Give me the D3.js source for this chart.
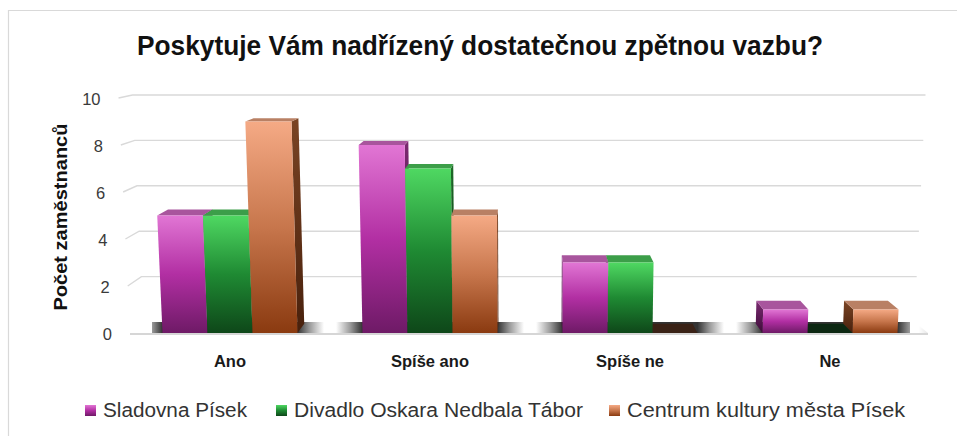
<!DOCTYPE html>
<html><head><meta charset="utf-8">
<script src="https://cdn.jsdelivr.net/npm/d3@7"></script>
<style>html,body{margin:0;padding:0;background:#fff}svg{display:block}</style>
</head><body>
<svg id="chart" width="957" height="436"></svg>
<script>
const categories = ["Ano", "Spíše ano", "Spíše ne", "Ne"];
const seriesNames = ["Sladovna Písek", "Divadlo Oskara Nedbala Tábor", "Centrum kultury města Písek"];
const sladovna = [5, 8, 3, 1];
const divadlo = [5, 7, 3, 0];
const centrum = [9, 5, 0, 1];
const yTicks = [0, 2, 4, 6, 8, 10];
const titleText = "Poskytuje Vám nadřízený dostatečnou zpětnou vazbu?";
const yTitle = "Počet zaměstnanců";

const seriesValues = [sladovna, divadlo, centrum];
const palette = [
  {front: ["#e176d4", "#b22fa3", "#6e1a66"], top: "#a8559d", side: ["#7a2a70", "#3e0c3a"], zero: "#3a0c36"},
  {front: ["#4fd862", "#1f8a33", "#0e4719"], top: "#3c9e49", side: ["#1e6a28", "#0a2e10"], zero: "#0c2812"},
  {front: ["#f5aa85", "#c7764c", "#8a3a10"], top: "#b98064", side: ["#7a4424", "#48200c"], zero: "#3a2216"}
];

const svg = d3.select("#chart");
const defs = svg.append("defs");

// frame
svg.append("path").attr("d", "M8.5,436 V10.5 H957").attr("fill", "none").attr("stroke", "#d9d9d9").attr("stroke-width", 1.2);

const x = d3.scaleBand().domain(categories).range([130, 930]).paddingInner(0.325).paddingOuter(0.1625);
const xs = d3.scaleBand().domain(seriesNames).range([0, x.bandwidth()]);
const y = d3.scaleLinear().domain([0, 10]).range([333, 98]);

const CX = 530, VY = 10, A = 0.000122, T = 0.034;
const floorL = 130, floorR = 928;
function proj(X, v, z) {
  const fy = y(v);
  const fx = CX + (X - CX) * (1 + A * (y(0) - fy));
  const t = z * T;
  return [fx + (CX - fx) * t, fy + (VY - fy) * t];
}
const poly = pts => "M" + pts.map(p => p[0].toFixed(2) + "," + p[1].toFixed(2)).join("L") + "Z";

// gradients
palette.forEach((p, i) => {
  const g = defs.append("linearGradient").attr("id", "gf" + i).attr("x1", 0).attr("y1", 0).attr("x2", 0).attr("y2", 1);
  g.append("stop").attr("offset", 0).attr("stop-color", p.front[0]);
  g.append("stop").attr("offset", 0.5).attr("stop-color", p.front[1]);
  g.append("stop").attr("offset", 1).attr("stop-color", p.front[2]);
  const s = defs.append("linearGradient").attr("id", "gs" + i).attr("x1", 0).attr("y1", 0).attr("x2", 0).attr("y2", 1);
  s.append("stop").attr("offset", 0).attr("stop-color", p.side[0]);
  s.append("stop").attr("offset", 1).attr("stop-color", p.side[1]);
});

// floor gradient from group edges
const fg = defs.append("linearGradient").attr("id", "floorg").attr("gradientUnits", "userSpaceOnUse")
  .attr("x1", floorL).attr("y1", 0).attr("x2", floorR).attr("y2", 0);
const stops = [];
const pushStop = (px, col) => stops.push([(px - floorL) / (floorR - floorL), col]);
pushStop(floorL, "#ffffff");
const gapsL = [floorL].concat(categories.map(c => x(c) + x.bandwidth()));
const gapsR = categories.map(c => x(c)).concat([floorR]);
for (let i = 0; i < gapsL.length; i++) {
  const a = gapsL[i], b = gapsR[i], m = (a + b) / 2;
  if (i > 0) { pushStop(a, "#333333"); pushStop(a + 12, "#999999"); }
  pushStop(m - 6, "#ffffff"); pushStop(m + 6, "#ffffff");
  if (i < gapsL.length - 1) { pushStop(b - 12, "#999999"); pushStop(b, "#333333"); }
}
pushStop(floorR, "#e6e6e6");
stops.forEach(s => fg.append("stop").attr("offset", Math.max(0, Math.min(1, s[0]))).attr("stop-color", s[1]));

// gridlines (side wall + back wall)
const grid = svg.append("g");
yTicks.filter(v => v > 0).forEach(v => {
  const p0 = proj(floorL, v, 0), p1 = proj(floorL, v, 1), p2 = proj(floorR, v, 1);
  grid.append("path").attr("d", `M${p0}L${p1}L${p2}`).attr("fill", "none").attr("stroke", "#d9d9d9").attr("stroke-width", 1.4);
});

// floor
svg.append("path").attr("d", poly([proj(floorL, 0, 0), proj(floorR, 0, 0), proj(floorR, 0, 1), proj(floorL, 0, 1)]))
  .attr("fill", "url(#floorg)");
svg.append("path").attr("d", poly([proj(floorL, 0, 0), proj(floorR, 0, 0), [proj(floorR, 0, 0)[0], y(0) + 2], [proj(floorL, 0, 0)[0], y(0) + 2]]))
  .attr("fill", "#d6d6d6");

// y tick labels
svg.append("g").selectAll("text").data(yTicks).join("text")
  .attr("x", v => proj(floorL, v, 0)[0] - 18)
  .attr("y", v => y(v) + 7)
  .attr("text-anchor", "end")
  .attr("font-family", "Liberation Sans, Arial, sans-serif").attr("font-size", 16.5).attr("fill", "#3a3a3a")
  .text(v => v);

// bars
const Z1 = 0.85;
const bars = [];
categories.forEach((c, ci) => {
  seriesNames.forEach((s, si) => {
    const X0 = x(c) + xs(s), X1 = X0 + xs.bandwidth();
    bars.push({ci, si, X0, X1, v: seriesValues[si][ci]});
  });
});
bars.sort((a, b) => Math.abs((b.X0 + b.X1) / 2 - CX) - Math.abs((a.X0 + a.X1) / 2 - CX));
const barG = svg.append("g");
bars.forEach(b => {
  const p = palette[b.si];
  const g = barG.append("g");
  if (b.v === 0) {
    g.append("path").attr("d", poly([proj(b.X0, 0, 0), proj(b.X1, 0, 0), proj(b.X1, 0, Z1), proj(b.X0, 0, Z1)])).attr("fill", p.zero);
    return;
  }
  if (b.X1 < CX) {
    g.append("path").attr("d", poly([proj(b.X1, 0, 0), proj(b.X1, 0, Z1), proj(b.X1, b.v, Z1), proj(b.X1, b.v, 0)])).attr("fill", `url(#gs${b.si})`);
  } else if (b.X0 > CX) {
    g.append("path").attr("d", poly([proj(b.X0, 0, 0), proj(b.X0, 0, Z1), proj(b.X0, b.v, Z1), proj(b.X0, b.v, 0)])).attr("fill", `url(#gs${b.si})`);
  }
  g.append("path").attr("d", poly([proj(b.X0, b.v, 0), proj(b.X1, b.v, 0), proj(b.X1, b.v, Z1), proj(b.X0, b.v, Z1)])).attr("fill", p.top);
  g.append("path").attr("d", poly([proj(b.X0, 0, 0), proj(b.X1, 0, 0), proj(b.X1, b.v, 0), proj(b.X0, b.v, 0)])).attr("fill", `url(#gf${b.si})`);
});

// category labels
svg.append("g").selectAll("text").data(categories).join("text")
  .attr("x", c => x(c) + x.bandwidth() / 2)
  .attr("y", 367)
  .attr("text-anchor", "middle")
  .attr("font-family", "Liberation Sans, Arial, sans-serif").attr("font-weight", "bold").attr("font-size", 16.5).attr("fill", "#1a1a1a")
  .text(c => c);

// title
svg.append("text").attr("x", 480).attr("y", 55).attr("text-anchor", "middle")
  .attr("font-family", "Liberation Sans, Arial, sans-serif").attr("font-weight", "bold").attr("font-size", 27).attr("fill", "#111")
  .attr("textLength", 686).attr("lengthAdjust", "spacingAndGlyphs")
  .text(titleText);

// y axis title
svg.append("text").attr("transform", "translate(67,217) rotate(-90)").attr("text-anchor", "middle")
  .attr("font-family", "Liberation Sans, Arial, sans-serif").attr("font-weight", "bold").attr("font-size", 18.5).attr("fill", "#111")
  .attr("textLength", 187).attr("lengthAdjust", "spacingAndGlyphs")
  .text(yTitle);

// legend
const legX = [85, 276, 609];
const legW = [144, 289, 278];
const leg = svg.append("g");
seriesNames.forEach((s, i) => {
  leg.append("rect").attr("x", legX[i]).attr("y", 405).attr("width", 11).attr("height", 11).attr("fill", `url(#gf${i})`);
  leg.append("text").attr("x", legX[i] + 18).attr("y", 417)
    .attr("font-family", "Liberation Sans, Arial, sans-serif").attr("font-size", 20).attr("fill", "#333")
    .attr("textLength", legW[i]).attr("lengthAdjust", "spacingAndGlyphs")
    .text(s);
});
</script>
</body></html>
